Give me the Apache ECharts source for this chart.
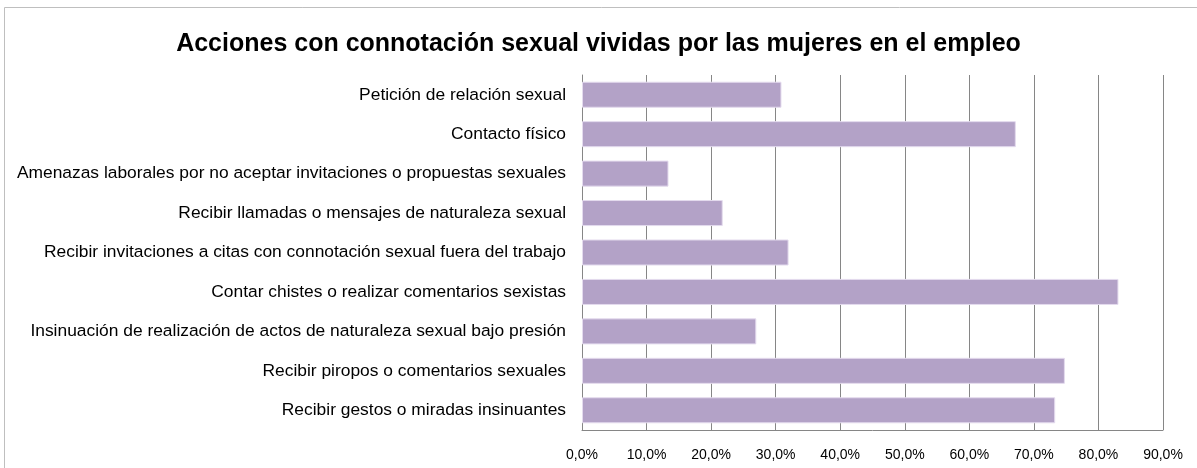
<!DOCTYPE html>
<html><head><meta charset="utf-8">
<script src="https://cdn.jsdelivr.net/npm/echarts@6/dist/echarts.min.js"></script>
<style>html,body{margin:0;padding:0;background:#fff}#c{width:1197px;height:468px}</style>
</head><body><div id="c"></div>
<script>
var categories = [
  "Petición de relación sexual",
  "Contacto físico",
  "Amenazas laborales por no aceptar invitaciones o propuestas sexuales",
  "Recibir llamadas o mensajes de naturaleza sexual",
  "Recibir invitaciones a citas con connotación sexual fuera del trabajo",
  "Contar chistes o realizar comentarios sexistas",
  "Insinuación de realización de actos de naturaleza sexual bajo presión",
  "Recibir piropos o comentarios sexuales",
  "Recibir gestos o miradas insinuantes"
];
var values = [30.9, 67.2, 13.4, 21.8, 32.0, 83.1, 27.0, 74.8, 73.3];
var titleText = "Acciones con connotación sexual vividas por las mujeres en el empleo";

var chart = echarts.init(document.getElementById('c'));
chart.setOption({
  animation: false,
  title: {
    text: titleText, left: 'center', top: 27,
    textStyle: {fontFamily: 'Liberation Sans', fontSize: 25, fontWeight: 'bold', color: '#000'}
  },
  graphic: [{type: 'rect', shape: {x: 4.5, y: 7.5, width: 1200, height: 470}, style: {fill: 'none', stroke: '#bfbfbf', lineWidth: 1}, silent: true}],
  grid: {left: 582, right: 34, top: 75, bottom: 38},
  xAxis: {
    type: 'value', min: 0, max: 90, interval: 10,
    axisLine: {show: true, lineStyle: {color: '#868686'}},
    axisTick: {show: false},
    splitLine: {show: true, lineStyle: {color: '#868686', width: 1}},
    axisLabel: {formatter: function(v){return v.toFixed(1).replace('.', ',') + '%';}, fontFamily: 'Liberation Sans', fontSize: 14, color: '#000', margin: 18}
  },
  yAxis: {
    type: 'category', data: categories, inverse: true,
    axisLine: {show: true, lineStyle: {color: '#868686'}},
    axisTick: {show: false},
    axisLabel: {fontFamily: 'Liberation Sans', fontSize: 17.4, color: '#000', margin: 16}
  },
  series: [{
    type: 'bar', data: values, barCategoryGap: '34%',
    itemStyle: {color: '#b3a2c7', borderColor: '#e4dbee', borderWidth: 1}
  }]
});
</script></body></html>
